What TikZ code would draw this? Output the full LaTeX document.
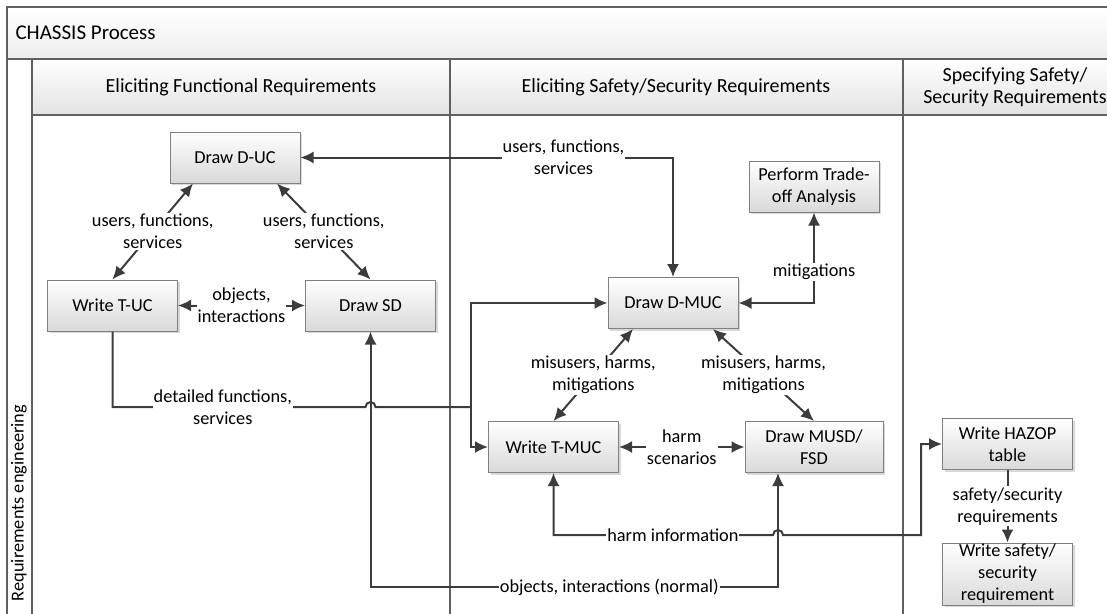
\documentclass[tikz,border=0pt]{standalone}
\usepackage{fontspec}
\setmainfont{Carlito}
\usetikzlibrary{arrows.meta,shadows,positioning}
\definecolor{lanegray}{HTML}{606060}
\definecolor{boxgray}{HTML}{808080}
\definecolor{arrowgray}{HTML}{3C3C3C}

\begin{document}
\begin{tikzpicture}[x=1pt,y=-1pt,>={Latex[length=13pt,width=12pt]}]

        \tikzstyle{lane}=[draw=lanegray, line width=1.5pt]
        \tikzstyle{lanehead}=[lane, top color=white, bottom color=black!11]
        \tikzstyle{task}=[draw=boxgray, line width=1pt, top color=white, bottom color=black!15, minimum width=130pt, minimum height=51pt, align=center, font=\fontsize{18.3}{22}\selectfont, drop shadow={shadow xshift=2pt, shadow yshift=-2pt, opacity=0.3}]
        \tikzstyle{lbl}=[fill=white, inner sep=1pt, align=center, font=\fontsize{18.3}{22}\selectfont]
        \tikzstyle{conn}=[draw=arrowgray, line width=2pt]

        \useasboundingbox (0,0) rectangle (1107,613);
        \begin{scope}
        \clip (0,0) rectangle (1107,613);
        \draw[lane, top color=white, bottom color=black!7]  (7,7) rectangle (1120,59); %
        \draw[lane, fill=white]  (7,59) rectangle (32,630); %
        \draw[lanehead]  (32,59) rectangle (450,115); %
        \draw[lanehead]  (450,59) rectangle (903,115); %
        \draw[lanehead]  (903,59) rectangle (1120,115); %
        \draw[lane]  (32,115) rectangle (450,630); %
        \draw[lane]  (450,115) rectangle (903,630); %
        \draw[lane]  (903,115) rectangle (1120,630); %
        \end{scope}

        \node (title) [anchor=west, font=\fontsize{21}{25}\selectfont] at (12,33) {CHASSIS Process};
        \node (pool) [rotate=90, font=\fontsize{18.3}{22}\selectfont] at (19,503) {Requirements engineering};
        \node (hfun) [font=\fontsize{20}{24}\selectfont] at (241,87) {Eliciting Functional Requirements};
        \node (hsaf) [font=\fontsize{20}{24}\selectfont] at (676,87) {Eliciting Safety/Security Requirements};
        \node (hspec) [align=center, font=\fontsize{20}{22}\selectfont] at (1015,87) {Specifying Safety/\\Security Requirements};

        % functional requirements
        \node (duc) [task] at (235,157.5) {Draw D-UC};
        \node (tuc) [task] at (112.5,305.5) {Write T-UC};
        \node (sd) [task] at (370.5,305.5) {Draw SD};

        % safety/security requirements
        \node (trade) [task] at (814,186.5) {Perform Trade-\\off Analysis};
        \node (dmuc) [task] at (673,303) {Draw D-MUC};
        \node (tmuc) [task] at (553.5,447) {Write T-MUC};
        \node (musd) [task, minimum width=138pt] at (814,447) {Draw MUSD/\\FSD};

        % specification
        \node (hazop) [task] at (1007.5,444) {Write HAZOP\\table};
        \node (wsafe) [task, inner ysep=0pt, minimum height=62pt] at (1007.5,574) {Write safety/\\security\\requirement};

        \coordinate (branch) at (471,407);
        \coordinate (harmrow) at (0,535);
        \coordinate (objrow) at (0,587);
        \coordinate (hzturn) at (921,535);

        \begin{scope}[conn]
        \draw[<->]  ([xshift=-42pt]duc.south) -- node[lbl] {users, functions,\\services} (tuc.north); %
        \draw[<->]  ([xshift=42pt]duc.south) -- node[lbl] {users, functions,\\services} (sd.north); %
        \draw[<->]  (tuc) -- node[lbl] {objects,\\interactions} (sd); %
        \draw[<->]  (dmuc.north) |- node[lbl, pos=0.647] {users, functions,\\services} (duc.east); %
        \draw[<->]  (dmuc.east) -| node[lbl, pos=0.67] {mitigations} (trade.south); %
        \draw[<->]  ([xshift=-40pt]dmuc.south) -- node[lbl] {misusers, harms,\\mitigations} (tmuc.north); %
        \draw[<->]  ([xshift=40pt]dmuc.south) -- node[lbl] {misusers, harms,\\mitigations} (musd.north); %
        \draw[<->]  (tmuc) -- node[lbl] {harm\\scenarios} (musd); %
        \draw[->]  (hazop) -- node[lbl] {safety/security\\requirements} (wsafe); %

        \draw  (tuc.south) |- node[lbl, pos=0.718] {detailed functions,\\services} ([xshift=-5pt]sd.south |- branch) arc[start angle=180, end angle=0, radius=5pt] -- (branch); %
        \draw[->]  (branch) |- (dmuc.west); %
        \draw[->]  (branch) |- (tmuc.west); %

        \draw[<->]  (sd.south) |- node[lbl, pos=0.793] {objects, interactions (normal)} ([xshift=-36pt]musd.south |- objrow) -- ([xshift=-36pt]musd.south); %
        \draw[<->]  (tmuc.south) |- node[lbl, pos=0.772] {harm information} ([xshift=-41pt]musd.south |- harmrow) arc[start angle=180, end angle=0, radius=5pt] -- (hzturn) |- (hazop.west); %
        \end{scope}

\end{tikzpicture}
\end{document}
